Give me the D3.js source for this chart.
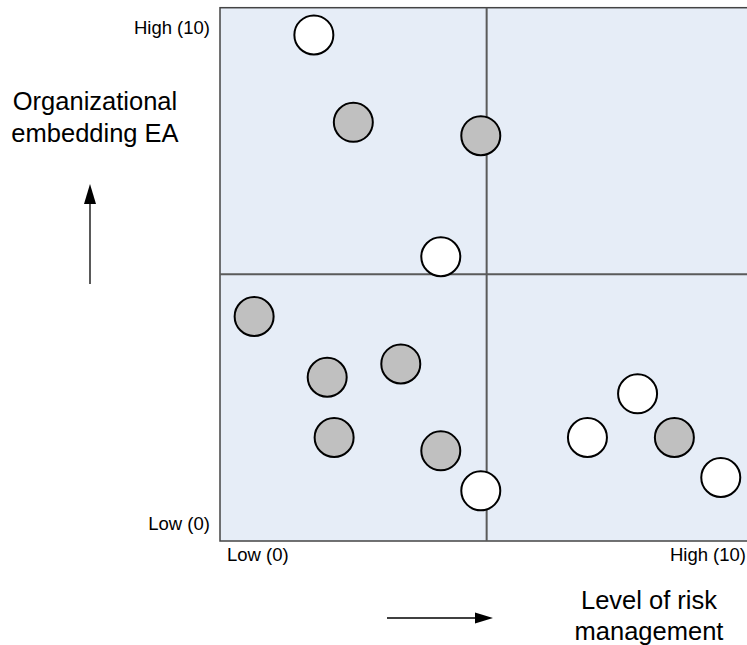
<!DOCTYPE html>
<html><head><meta charset="utf-8">
<script src="https://cdn.jsdelivr.net/npm/d3@7"></script>
<style>body{margin:0;background:#fff}svg{display:block}text{font-family:"Liberation Sans",Arial,sans-serif;fill:#000}</style>
</head><body>
<svg id="c" width="747" height="645"></svg>
<script>
const riskLevel = [1.76, 2.5, 4.89, 4.14, 0.64, 2.01, 3.39, 2.14, 4.14, 4.89, 6.89, 7.83, 8.52, 9.39];
const embedding = [9.49, 7.85, 7.6, 5.33, 4.21, 3.07, 3.32, 1.94, 1.69, 0.94, 1.94, 2.76, 1.94, 1.19];
const group = ["white","grey","grey","white","grey","grey","grey","grey","grey","white","white","white","grey","white"];
const tickLow = "Low (0)", tickHigh = "High (10)";
const yTitle = ["Organizational", "embedding EA"];
const xTitle = ["Level of risk", "management"];

const svg = d3.select("#c");
const L = 220, T = 8, S = 533.3, B = 541;
const x = d3.scaleLinear().domain([0, 10]).range([L, L + S]);
const y = d3.scaleLinear().domain([0, 10]).range([B, B - S]);

svg.append("rect").attr("x", x(0)).attr("y", y(10)).attr("width", x(10) - x(0)).attr("height", y(0) - y(10))
  .attr("fill", "#e6edf7").attr("stroke", "#444").attr("stroke-width", 1.5);
svg.append("line").attr("x1", x(5)).attr("x2", x(5)).attr("y1", y(0)).attr("y2", y(10)).attr("stroke", "#5a5a5a").attr("stroke-width", 2);
svg.append("line").attr("x1", x(0)).attr("x2", x(10)).attr("y1", y(5)).attr("y2", y(5)).attr("stroke", "#5a5a5a").attr("stroke-width", 2);

const pts = riskLevel.map((v, i) => ({x: v, y: embedding[i], g: group[i]}));
svg.append("g").selectAll("circle").data(pts).join("circle")
  .attr("cx", d => x(d.x)).attr("cy", d => y(d.y)).attr("r", 19.5)
  .attr("fill", d => d.g === "grey" ? "#c0c0c0" : "#ffffff")
  .attr("stroke", "#000").attr("stroke-width", 2);

const tf = 18.5;
svg.append("text").attr("x", 210).attr("y", 34).attr("text-anchor", "end").attr("font-size", tf).text(tickHigh);
svg.append("text").attr("x", 210).attr("y", 530).attr("text-anchor", "end").attr("font-size", tf).text(tickLow);
svg.append("text").attr("x", 227).attr("y", 561).attr("font-size", tf).text(tickLow);
svg.append("text").attr("x", 746).attr("y", 561).attr("text-anchor", "end").attr("font-size", tf).text(tickHigh);

const ttf = 25.5;
svg.append("text").attr("x", 95).attr("y", 110).attr("text-anchor", "middle").attr("font-size", ttf).text(yTitle[0]);
svg.append("text").attr("x", 95).attr("y", 142).attr("text-anchor", "middle").attr("font-size", ttf).text(yTitle[1]);
svg.append("text").attr("x", 649).attr("y", 609).attr("text-anchor", "middle").attr("font-size", ttf).text(xTitle[0]);
svg.append("text").attr("x", 649).attr("y", 640).attr("text-anchor", "middle").attr("font-size", ttf).text(xTitle[1]);

// arrows
svg.append("line").attr("x1", 90).attr("x2", 90).attr("y1", 284).attr("y2", 200).attr("stroke", "#000").attr("stroke-width", 1.3);
svg.append("path").attr("d", "M90,184 L84,204 L96,204 Z").attr("fill", "#000");
svg.append("line").attr("x1", 387).attr("x2", 478).attr("y1", 618).attr("y2", 618).attr("stroke", "#000").attr("stroke-width", 1.3);
svg.append("path").attr("d", "M493,618 L475,612.5 L475,623.5 Z").attr("fill", "#000");
</script>
</body></html>
